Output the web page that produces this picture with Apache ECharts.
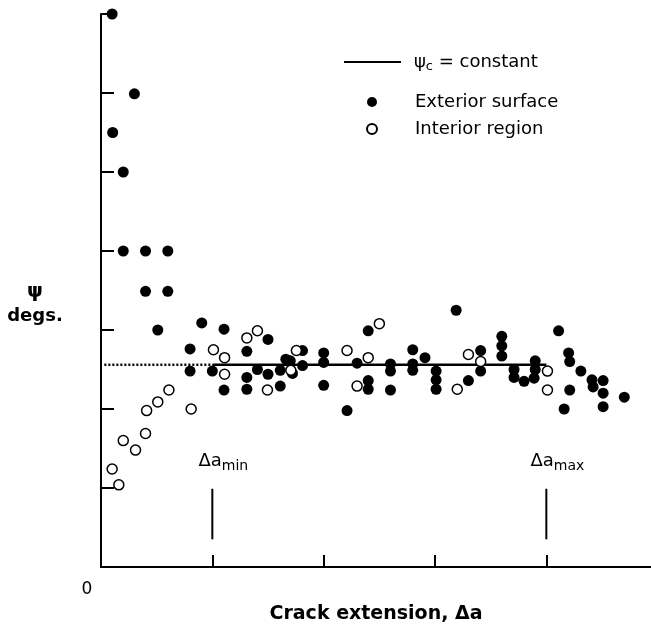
<!DOCTYPE html>
<html>
<head>
<meta charset="utf-8">
<script src="https://cdn.jsdelivr.net/npm/echarts@6/dist/echarts.min.js"></script>
<style>
  html, body { margin: 0; padding: 0; background: #fff; }
  #chart { width: 651px; height: 629px; }
</style>
</head>
<body>
<div id="chart"></div>
<script>
// points: [crack extension, psi] in axis units
let exterior = [
  [0.10, 7.0], [0.30, 5.99], [0.105, 5.50], [0.20, 5.0], [0.20, 4.0], [0.40, 4.0], [0.60, 4.0],
  [0.40, 3.49], [0.60, 3.49], [0.51, 3.0], [0.905, 3.09], [1.105, 3.01], [0.80, 2.76], [0.80, 2.48],
  [1.00, 2.48], [1.105, 2.24], [1.50, 2.88], [1.31, 2.73], [1.405, 2.50], [1.31, 2.40], [1.31, 2.25],
  [1.50, 2.44], [1.61, 2.49], [1.61, 2.29], [1.66, 2.63], [1.70, 2.61], [1.81, 2.74], [1.81, 2.55],
  [1.72, 2.45], [2.00, 2.71], [2.00, 2.59], [2.00, 2.30], [2.21, 1.98], [2.30, 2.58], [2.40, 2.99],
  [2.40, 2.36], [2.40, 2.25], [2.60, 2.57], [2.60, 2.48], [2.60, 2.24], [2.80, 2.75], [2.80, 2.57],
  [2.80, 2.49], [2.91, 2.65], [3.01, 2.48], [3.01, 2.37], [3.01, 2.25], [3.19, 3.25], [3.30, 2.36],
  [3.41, 2.74], [3.41, 2.48], [3.60, 2.92], [3.60, 2.80], [3.60, 2.67], [3.71, 2.50], [3.71, 2.40],
  [3.80, 2.35], [3.90, 2.61], [3.90, 2.50], [3.89, 2.39], [4.11, 2.99], [4.20, 2.71], [4.21, 2.60],
  [4.31, 2.48], [4.41, 2.37], [4.42, 2.28], [4.51, 2.36], [4.51, 2.20], [4.51, 2.03], [4.70, 2.15],
  [4.21, 2.24], [4.16, 2.0]
];
let interior = [
  [0.10, 1.24], [0.16, 1.04], [0.20, 1.60], [0.31, 1.48], [0.40, 1.69], [0.41, 1.98], [0.51, 2.09],
  [0.61, 2.24], [0.81, 2.0], [1.01, 2.75], [1.11, 2.65], [1.11, 2.44], [1.31, 2.90], [1.405, 2.99],
  [1.495, 2.24], [1.705, 2.49], [1.755, 2.74], [2.21, 2.74], [2.30, 2.29], [2.40, 2.65], [2.50, 3.08],
  [3.20, 2.25], [3.30, 2.69], [3.41, 2.60], [4.01, 2.48], [4.01, 2.24]
];
let psiC = 2.56;
let constantLine = [[1, psiC], [4, psiC]];
let dottedLine = [[0.03, psiC], [1, psiC]];
let daMinLine = [[1, 0.35], [1, 0.99]];
let daMaxLine = [[4, 0.35], [4, 0.99]];
let daLabels = [
  { value: [1, 1.34], name: "min" },
  { value: [4, 1.34], name: "max" }
];
let xTicks = [1, 2, 3, 4];
let yTicks = [1, 2, 3, 4, 5, 6, 7];

let font = "DejaVu Sans";
let chart = echarts.init(document.getElementById("chart"));

let option = {
  backgroundColor: "#fff",
  animation: false,
  textStyle: { fontFamily: font, color: "#000" },
  grid: { left: 101, right: 0, top: 14, bottom: 61 },
  legend: [
    {
      data: ["c"],
      orient: "vertical",
      left: 343,
      top: 53,
      padding: 0,
      itemWidth: 57,
      itemHeight: 14,
      formatter: function () {
        return "{a|ψ}{s|c}{a| = constant}";
      },
      textStyle: {
        padding: [0, 0, 0, 8],
        rich: {
          a: { fontFamily: font, fontSize: 18, color: "#000" },
          s: { fontFamily: font, fontSize: 13, color: "#000", padding: [10, 0, 0, 0] }
        }
      },
      itemStyle: { opacity: 0 }
    },
    {
      data: ["Exterior surface", "Interior region"],
      orient: "vertical",
      left: 366,
      top: 93,
      padding: 0,
      itemWidth: 10,
      itemHeight: 10,
      itemGap: 9,
      textStyle: { fontFamily: font, fontSize: 18, color: "#000", padding: [0, 0, 0, 33] }
    }
  ],
  xAxis: {
    type: "value",
    min: 0,
    max: 4.94,
    interval: 1,
    name: "Crack extension, Δa",
    nameLocation: "middle",
    nameGap: 38,
    nameTextStyle: {
      fontFamily: font,
      fontSize: 19,
      fontWeight: "bold",
      color: "#000"
    },
    splitLine: { show: false },
    axisLine: { lineStyle: { color: "#000", width: 2 } },
    axisTick: {
      inside: true,
      length: 12,
      customValues: xTicks,
      lineStyle: { color: "#000", width: 2 }
    },
    axisLabel: {
      customValues: [0],
      margin: 14,
      formatter: function (v) {
        return v === 0 ? "{z|0}" : "";
      },
      rich: {
        z: { fontFamily: font, fontSize: 17, color: "#000", padding: [0, 28, 0, 0] }
      }
    }
  },
  yAxis: {
    type: "value",
    min: 0,
    max: 7,
    interval: 1,
    name: "{p|ψ}\n{d|degs.}",
    nameLocation: "middle",
    nameRotate: 0,
    nameGap: 66,
    nameTextStyle: {
      align: "center",
      padding: [24, 0, 0, 0],
      rich: {
        p: { fontFamily: font, fontSize: 20, fontWeight: "bold", color: "#000", lineHeight: 27 },
        d: { fontFamily: font, fontSize: 18, fontWeight: "bold", color: "#000", lineHeight: 22 }
      }
    },
    splitLine: { show: false },
    axisLine: { lineStyle: { color: "#000", width: 2 } },
    axisTick: {
      inside: true,
      length: 13,
      customValues: yTicks,
      lineStyle: { color: "#000", width: 2 }
    },
    axisLabel: { show: false }
  },
  series: [
    {
      name: "c",
      type: "line",
      data: constantLine,
      symbol: "none",
      lineStyle: { color: "#000", width: 2.5 },
      z: 3
    },
    {
      name: "dotted",
      type: "line",
      data: dottedLine,
      symbol: "none",
      lineStyle: { color: "#000", width: 2.5, type: [2, 2] },
      z: 3
    },
    {
      name: "minLine",
      type: "line",
      data: daMinLine,
      symbol: "none",
      lineStyle: { color: "#000", width: 2 }
    },
    {
      name: "maxLine",
      type: "line",
      data: daMaxLine,
      symbol: "none",
      lineStyle: { color: "#000", width: 2 }
    },
    {
      name: "daLabels",
      type: "scatter",
      data: daLabels,
      symbolSize: 0,
      itemStyle: { opacity: 1 },
      label: {
        show: true,
        position: "inside",
        offset: [11, 0],
        formatter: function (p) {
          return "{a|Δa}{s|" + p.name + "}";
        },
        rich: {
          a: { fontFamily: font, fontSize: 18, color: "#000" },
          s: { fontFamily: font, fontSize: 14, color: "#000", padding: [10, 0, 0, 0] }
        }
      }
    },
    {
      name: "Exterior surface",
      type: "scatter",
      data: exterior,
      symbol: "circle",
      symbolSize: 11,
      itemStyle: { color: "#000", opacity: 1 },
      z: 4
    },
    {
      name: "Interior region",
      type: "scatter",
      data: interior,
      symbol: "circle",
      symbolSize: 10,
      itemStyle: { color: "#fff", borderColor: "#000", borderWidth: 1.5, opacity: 1 },
      z: 5
    }
  ]
};

chart.setOption(option);
</script>
</body>
</html>
